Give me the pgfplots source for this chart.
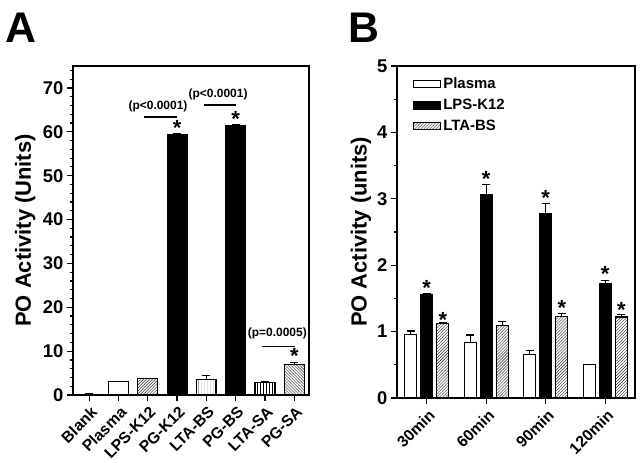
\documentclass[border=0pt]{standalone}
\usepackage{pgfplots}
\pgfplotsset{compat=1.18}
\usepackage{fontspec}
\setmainfont{Liberation Sans}
\usetikzlibrary{patterns}
\begin{document}
\begin{tikzpicture}
\useasboundingbox (0,0) rectangle (642bp,463bp);
\pgfplotsset{
  myax/.style={
    scale only axis,
    axis line style={line width=1.6bp},
    tick style={black, line width=1.2bp},
    tick align=outside, major tick length=6bp, minor tick length=3bp,
    xtick pos=bottom, ytick pos=left,
    /pgf/number format/assume math mode=true,
    yticklabel style={font=\bfseries\fontsize{18.5}{18.5}\selectfont},
    xticklabel style={xshift=1bp, yshift=-3bp, rotate=45, anchor=north east, inner sep=1bp, font=\bfseries\fontsize{15.8}{15.8}\selectfont},
    ylabel style={font=\bfseries\fontsize{22}{22}\selectfont, anchor=center},
    error bars/y dir=plus, error bars/y explicit,
    error bars/error bar style={line width=1.2bp, black},
    error bars/error mark options={rotate=90, mark size=4bp, line width=1.2bp, black},
  },
  bars/.style={draw=black, line width=1.2bp},
}
\tikzset{
  star/.style={font=\bfseries\fontsize{22}{22}\selectfont, anchor=base, inner sep=0pt},
  pval/.style={font=\bfseries\fontsize{12}{12}\selectfont, inner sep=0pt},
}
\node[anchor=base west, inner sep=0pt, font=\bfseries\fontsize{43}{43}\selectfont] at (5bp,420bp) {A};
\node[anchor=base west, inner sep=0pt, font=\bfseries\fontsize{43}{43}\selectfont] at (348bp,420bp) {B};

% Panel A
\begin{axis}[myax, at={(73bp,68bp)}, anchor=south west, width=236bp, height=329bp,
  ybar, bar width=0.68,
  xmin=-0.55, xmax=7.5, ymin=0, ymax=75,
  xtick={0,...,7}, xticklabels={Blank,Plasma,LPS-K12,PG-K12,LTA-BS,PG-BS,LTA-SA,PG-SA},
  ytick={0,10,...,70}, minor ytick={2,4,...,74},
  ylabel={PO Activity (Units)}, ylabel style={at={(axis description cs:-0.203,0.5)}},
]
\addplot[bars, bar shift=0pt, fill=white] coordinates {(0,0.2) +- (0,0.05)};
\addplot[bars, bar shift=0pt, fill=white] coordinates {(1,3.0) +- (0,0.15)};
\addplot[bars, bar shift=0pt, pattern=north east lines, pattern color=black!85] coordinates {(2,3.7) +- (0,0.1)};
\addplot[bars, bar shift=0pt, fill=black] coordinates {(3,59.3) +- (0,0.3)};
\addplot[bars, bar shift=0pt, pattern=vertical lines] coordinates {(4,3.5) +- (0,0.9)};
\addplot[bars, bar shift=0pt, fill=black] coordinates {(5,61.4) +- (0,0.3)};
\addplot[bars, bar shift=0pt, pattern=vertical lines] coordinates {(6,2.8) +- (0,0.35)};
\addplot[bars, bar shift=0pt, pattern=north west lines, pattern color=black!85] coordinates {(7,6.9) +- (0,0.5)};
\addplot[sharp plot, black, line width=1.5bp, forget plot] coordinates {(1.88,63.4) (3.0,63.4)};
\addplot[sharp plot, black, line width=1.5bp, forget plot] coordinates {(3.92,66.1) (5.0,66.1)};
\addplot[sharp plot, black, line width=1.5bp, forget plot] coordinates {(5.9,11.1) (7.03,11.1)};
\node[pval] at (axis cs:2.35,65.7) {(p<0.0001)};
\node[pval] at (axis cs:4.40,68.6) {(p<0.0001)};
\node[pval] at (axis cs:6.42,14.1) {(p=0.0005)};
\node[star] at (axis cs:3,59.1) {*};
\node[star] at (axis cs:5,61.3) {*};
\node[star] at (axis cs:7,7.1) {*};
\end{axis}

% Panel B
\begin{axis}[myax, at={(397bp,65bp)}, anchor=south west, width=238bp, height=332bp,
  ybar, bar width=0.2,
  xmin=-0.5, xmax=3.5, ymin=0, ymax=5,
  xtick={0,1,2,3}, xticklabels={30min,60min,90min,120min},
  ytick={0,...,5}, minor y tick num=1,
  ylabel={PO Activity (units)}, ylabel style={at={(axis description cs:-0.151,0.5)}},
  legend style={draw=none, fill=none, at={(0.067,0.97)}, anchor=north west,
    font=\bfseries\fontsize{15}{15}\selectfont, row sep=5bp, inner sep=0pt},
  legend cell align=left,
  legend image code/.code={\draw[#1, bar shift=0pt] (0bp,-3.5bp) rectangle (27bp,3.5bp);},
]
\addplot[bars, bar shift=-0.27, fill=white] coordinates {
  (0,0.96) +- (0,0.05) (1,0.83) +- (0,0.12) (2,0.66) +- (0,0.06) (3,0.50) +- (0,0.01)};
\addplot[bars, bar shift=0, fill=black] coordinates {
  (0,1.55) +- (0,0.02) (1,3.06) +- (0,0.15) (2,2.77) +- (0,0.16) (3,1.72) +- (0,0.05)};
\addplot[bars, bar shift=0.27, pattern=north east lines, pattern color=black!85] coordinates {
  (0,1.12) +- (0,0.02) (1,1.09) +- (0,0.06) (2,1.23) +- (0,0.04) (3,1.22) +- (0,0.04)};
\legend{Plasma,LPS-K12,LTA-BS}
\node[star] at (axis cs:0,1.55) {*};
\node[star] at (axis cs:0.27,1.06) {*};
\node[star] at (axis cs:1,3.19) {*};
\node[star] at (axis cs:2,2.90) {*};
\node[star] at (axis cs:2.27,1.24) {*};
\node[star] at (axis cs:3,1.75) {*};
\node[star] at (axis cs:3.27,1.21) {*};
\end{axis}
\end{tikzpicture}
\end{document}
